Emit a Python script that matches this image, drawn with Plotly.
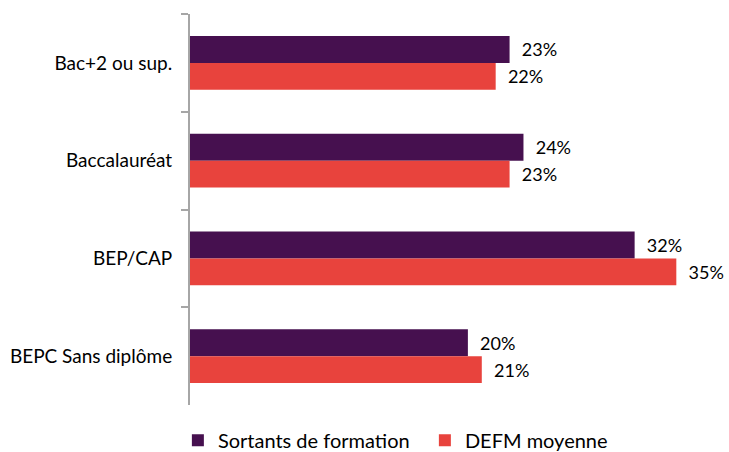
'''
    Horizontal grouped bar chart: diploma level of training leavers vs. average DEFM.
'''

import plotly.graph_objects as go

categories = ["Bac+2 ou sup.", "Baccalauréat", "BEP/CAP", "BEPC Sans diplôme"]
sortants = [23, 24, 32, 20]
defm = [22, 23, 35, 21]

FONT = "Lato, 'Open Sans', sans-serif"

fig = go.Figure()
fig.add_trace(go.Bar(
    y=categories, x=sortants, orientation="h",
    name="Sortants de formation\u00a0\u00a0",
    marker=dict(color="#46104F", line=dict(width=0)),
    text=[f"  {v}%" for v in sortants], textposition="outside",
    textfont=dict(size=18, color="#000000"), constraintext="none",
    cliponaxis=False,
))
fig.add_trace(go.Bar(
    y=categories, x=defm, orientation="h",
    name="DEFM moyenne",
    marker=dict(color="#E8433D", line=dict(width=0)),
    text=[f"  {v}%" for v in defm], textposition="outside",
    textfont=dict(size=18, color="#000000"), constraintext="none",
    cliponaxis=False,
))

fig.update_layout(
    width=729, height=452,
    margin=dict(l=190, r=11, t=14, b=47),
    barmode="group", bargap=0.45, bargroupgap=0,
    plot_bgcolor="white", paper_bgcolor="white",
    font=dict(family=FONT, size=19, color="#000000"),
    showlegend=True,
    legend=dict(
        orientation="h", xref="container", x=0.244, xanchor="left",
        yref="container", y=0.026, yanchor="middle",
        font=dict(size=20), traceorder="normal", itemwidth=30,
    ),
)
fig.update_xaxes(range=[0, 38], visible=False, showgrid=False, zeroline=False,
                 automargin=False)
fig.update_yaxes(
    autorange=False, range=[3.5, -0.5], automargin=False,
    showline=True, linecolor="#A6A6A6", linewidth=2,
    ticks="outside", ticklen=7, tickcolor="#A6A6A6", tickwidth=2,
    tickson="boundaries", ticklabelstandoff=12,
    showgrid=False, zeroline=False,
)

# drop the default page margin so the figure sits at the window's corner
fig.write_html("out.html", config={"displayModeBar": False},
               post_script="document.body.style.margin='0';")
